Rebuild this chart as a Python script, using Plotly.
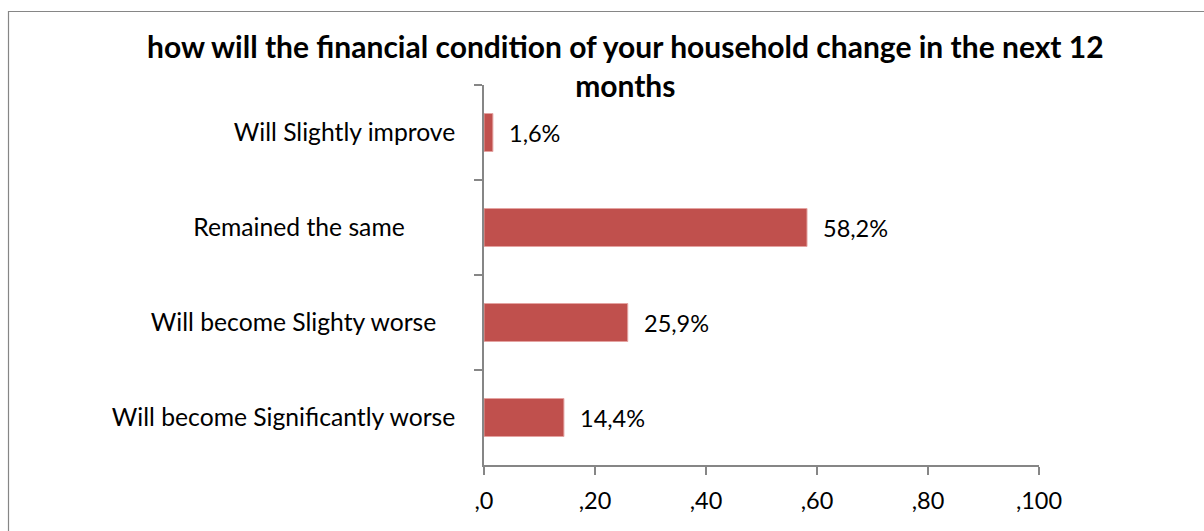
import plotly.graph_objects as go

# Survey answers, listed top to bottom as shown on the chart
categories = [
    "Will Slightly improve",
    "Remained the same\u00a0\u00a0\u00a0\u00a0\u00a0\u00a0\u00a0\u00a0",
    "Will become Slighty worse\u00a0\u00a0\u00a0",
    "Will become Significantly worse",
]
values = [1.6, 58.2, 25.9, 14.4]
value_labels = ["1,6%", "58,2%", "25,9%", "14,4%"]

x_tick_values = [0, 20, 40, 60, 80, 100]
x_tick_labels = [",0", ",20", ",40", ",60", ",80", ",100"]

BAR_COLOR = "#C0504D"
AXIS_COLOR = "#868686"
FONT = "Lato"

W, H = 1204, 531
ML, MR, MT, MB = 484, 165, 85, 66
PW, PH = W - ML - MR, H - MT - MB


def px_to_paper_x(px):
    return (px - ML) / PW


def px_to_paper_y(py):
    return (PH + MT - py) / PH


fig = go.Figure(
    go.Bar(
        x=values,
        y=categories,
        orientation="h",
        width=0.4,
        marker=dict(color=BAR_COLOR, line=dict(color="#E4A3A1", width=1)),
        hoverinfo="x+y",
    )
)

# value labels to the right of each bar
for cat, v, lab in zip(categories, values, value_labels):
    fig.add_annotation(
        x=v, y=cat, xref="x", yref="y",
        text=lab, showarrow=False,
        xanchor="left", xshift=14,
        font=dict(family=FONT, size=23.5, color="#000000"),
    )

# two-line bold title
fig.add_annotation(
    x=px_to_paper_x(625), y=px_to_paper_y(66), xref="paper", yref="paper",
    xanchor="center", yanchor="middle",
    text="how will the financial condition of your household change in the next 12<br>months",
    showarrow=False, align="center",
    font=dict(family=FONT, size=30, color="#000000", weight="bold"),
)

# chart frame (extends past the right and bottom edges of the page)
fig.add_shape(
    type="rect", xref="paper", yref="paper",
    x0=px_to_paper_x(8.5), x1=1.6,
    y0=-0.5, y1=px_to_paper_y(11.5),
    line=dict(color=AXIS_COLOR, width=1.2),
    fillcolor="rgba(0,0,0,0)",
    layer="below",
)

fig.update_layout(
    width=W, height=H,
    margin=dict(l=ML, r=MR, t=MT, b=MB, pad=0),
    paper_bgcolor="white",
    plot_bgcolor="white",
    showlegend=False,
    font=dict(family=FONT, size=22, color="#000000"),
    xaxis=dict(
        range=[0, 100],
        tickmode="array",
        tickvals=x_tick_values,
        ticktext=x_tick_labels,
        showgrid=False,
        zeroline=False,
        showline=True,
        linecolor=AXIS_COLOR,
        linewidth=1.5,
        ticks="outside",
        ticklen=8,
        tickcolor=AXIS_COLOR,
        tickwidth=1.5,
        ticklabelstandoff=6,
        tickfont=dict(family=FONT, size=23.5, color="#000000"),
        fixedrange=True,
    ),
    yaxis=dict(
        type="category",
        categoryorder="array",
        categoryarray=categories,
        autorange="reversed",
        showgrid=False,
        zeroline=False,
        showline=True,
        linecolor=AXIS_COLOR,
        linewidth=1.5,
        ticks="outside",
        tickson="boundaries",
        ticklen=8,
        tickcolor=AXIS_COLOR,
        tickwidth=1.5,
        ticklabelstandoff=22,
        tickfont=dict(family=FONT, size=24.7, color="#000000"),
        fixedrange=True,
    ),
)

fig.write_html("out.html")
